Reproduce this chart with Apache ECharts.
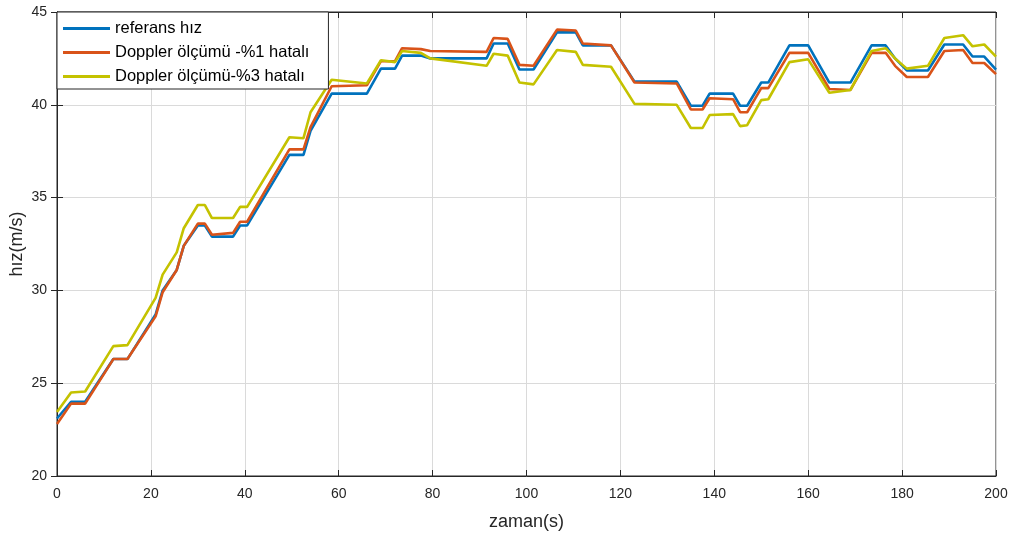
<!DOCTYPE html>
<html>
<head>
<meta charset="utf-8">
<script src="https://cdn.jsdelivr.net/npm/echarts@6/dist/echarts.min.js"></script>
<style>html,body{margin:0;padding:0;background:#fff}#c{width:1013px;height:534px}</style>
</head>
<body>
<div id="c"></div>
<script>
const times = [0, 3, 6, 12, 15, 21, 22.5, 25.5, 27, 30, 31.5, 33, 37.5, 39, 40.5, 49.5, 52.5, 54, 58.5, 66, 69, 72, 73.5, 77.5, 79.5, 91.5, 93, 96, 98.5, 101.5, 106.5, 110.5, 112, 118, 123, 132, 135, 137.5, 139, 144, 145.5, 147, 150, 151.5, 156, 160, 164.5, 169, 173.5, 176.5, 178.5, 181, 185.5, 189, 193, 195, 197.5, 200];
const referans = [23.1, 24.0, 24.0, 26.3, 26.3, 28.7, 30.0, 31.1, 32.4, 33.5, 33.5, 32.9, 32.9, 33.5, 33.5, 37.3, 37.3, 38.6, 40.6, 40.6, 41.95, 41.95, 42.65, 42.65, 42.5, 42.5, 43.3, 43.3, 41.9, 41.9, 43.9, 43.9, 43.2, 43.2, 41.25, 41.25, 39.95, 39.95, 40.6, 40.6, 39.95, 39.95, 41.2, 41.2, 43.2, 43.2, 41.2, 41.2, 43.2, 43.2, 42.5, 41.85, 41.85, 43.25, 43.25, 42.6, 42.6, 41.9];
const doppler1 = [22.8, 23.9, 23.9, 26.3, 26.3, 28.6, 29.9, 31.1, 32.4, 33.6, 33.6, 33.0, 33.1, 33.7, 33.7, 37.6, 37.6, 38.8, 41.0, 41.05, 42.35, 42.35, 43.05, 43.0, 42.9, 42.85, 43.6, 43.55, 42.15, 42.1, 44.05, 44.0, 43.3, 43.2, 41.2, 41.15, 39.75, 39.75, 40.35, 40.3, 39.6, 39.6, 40.9, 40.9, 42.8, 42.8, 40.85, 40.8, 42.8, 42.8, 42.1, 41.5, 41.5, 42.9, 42.95, 42.25, 42.25, 41.65];
const doppler3 = [23.45, 24.5, 24.55, 27.0, 27.05, 29.6, 30.85, 32.05, 33.35, 34.6, 34.6, 33.9, 33.9, 34.5, 34.5, 38.25, 38.2, 39.6, 41.35, 41.15, 42.4, 42.3, 42.9, 42.8, 42.5, 42.1, 42.75, 42.65, 41.2, 41.1, 42.95, 42.85, 42.15, 42.05, 40.05, 40.0, 38.75, 38.75, 39.45, 39.5, 38.85, 38.9, 40.25, 40.3, 42.3, 42.45, 40.65, 40.8, 42.9, 43.05, 42.5, 41.95, 42.1, 43.6, 43.75, 43.15, 43.25, 42.6];
const names = ['referans hız', 'Doppler ölçümü -%1 hatalı', 'Doppler ölçümü-%3 hatalı'];
const colors = ['#0072BD', '#D95319', '#C4C200'];
const xTicks = [0, 20, 40, 60, 80, 100, 120, 140, 160, 180, 200];
const yTicks = [20, 25, 30, 35, 40, 45];

const pair = v => times.map((t, i) => [t, v[i]]);
const font = 'Liberation Sans, Arial, sans-serif';
const axisCol = '#262626';
const chart = echarts.init(document.getElementById('c'));
const lineSeries = [referans, doppler1, doppler3].map((v, i) => ({
  name: names[i], type: 'line', data: pair(v), symbol: 'none',
  lineStyle: { width: 2.6, color: colors[i] }, itemStyle: { color: colors[i] },
  animation: false
}));
chart.setOption({
  animation: false,
  backgroundColor: '#fff',
  grid: { left: 57, right: 17, top: 12, bottom: 58, show: true, borderColor: axisCol, borderWidth: 1, containLabel: false, outerBoundsMode: 'none' },
  legend: {
    orient: 'vertical', left: 57, top: 12,
    data: names,
    itemWidth: 47, itemHeight: 3, itemGap: 7,
    padding: [8, 19, 4, 6],
    backgroundColor: '#fff', borderColor: '#262626', borderWidth: 1,
    textStyle: { fontFamily: font, fontSize: 16.5, color: '#000' },
    icon: 'rect'
  },
  xAxis: [{
    type: 'value', min: 0, max: 200, interval: 20,
    name: 'zaman(s)', nameLocation: 'middle', nameGap: 37, nameMoveOverlap: false,
    nameTextStyle: { fontFamily: font, fontSize: 18, color: axisCol },
    axisLine: { show: true, lineStyle: { color: axisCol, width: 1 } },
    axisTick: { show: true, inside: true, length: 6, lineStyle: { color: axisCol } },
    axisLabel: { fontFamily: font, fontSize: 14, color: axisCol, margin: 11 },
    splitLine: { show: true, lineStyle: { color: '#dadada', width: 1 } }
  }, {
    type: 'value', min: 0, max: 200, interval: 20, position: 'top',
    axisLine: { show: true, lineStyle: { color: axisCol, width: 1 } },
    axisTick: { show: true, inside: true, length: 6, lineStyle: { color: axisCol } },
    axisLabel: { show: false }, splitLine: { show: false }
  }],
  yAxis: [{
    type: 'value', min: 20, max: 45, interval: 5,
    name: 'hız(m/s)', nameLocation: 'middle', nameGap: 31, nameRotate: 90, nameMoveOverlap: false,
    nameTextStyle: { fontFamily: font, fontSize: 18, color: axisCol },
    axisLine: { show: true, lineStyle: { color: axisCol, width: 1 } },
    axisTick: { show: true, inside: true, length: 6, lineStyle: { color: axisCol } },
    axisLabel: { fontFamily: font, fontSize: 14, color: axisCol, margin: 10 },
    splitLine: { show: true, lineStyle: { color: '#dadada', width: 1 } }
  }, {
    type: 'value', min: 20, max: 45, interval: 5, position: 'right',
    axisLine: { show: true, lineStyle: { color: axisCol, width: 1 } },
    axisTick: { show: true, inside: true, length: 6, lineStyle: { color: axisCol } },
    axisLabel: { show: false }, splitLine: { show: false }
  }],
  series: lineSeries
});
</script>
</body>
</html>
